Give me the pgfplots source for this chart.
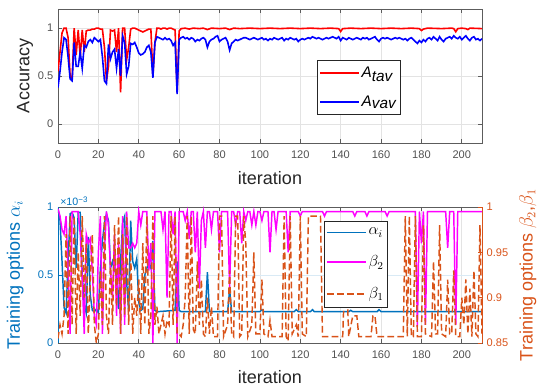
\documentclass[border=0pt]{standalone}
\usepackage{fontspec}
\setmainfont{Liberation Sans}
\usepackage{pgfplots}
\pgfplotsset{compat=1.18}
\definecolor{mblue}{HTML}{0072BD}
\definecolor{morange}{HTML}{D95319}
\definecolor{mmag}{HTML}{FF00FF}
\definecolor{mred}{HTML}{FF0000}
\definecolor{mbl}{HTML}{0000FF}
\definecolor{axgray}{HTML}{262626}
\definecolor{gridgray}{HTML}{E3E3E3}
\begin{document}
\begin{tikzpicture}
\path[use as bounding box] (0pt,0pt) rectangle (412.5pt,294pt);
\pgfplotsset{mystyle/.style={width=318pt, scale only axis, xmin=0, xmax=210,
  xtick={0,20,...,200}, tick align=inside, major tick length=3pt,
  tick label style={font=\fontsize{8.3}{10}\selectfont, color=axgray!80},
  xticklabel style={yshift=-2pt},
  /pgf/number format/assume math mode=true,
  label style={font=\fontsize{13.5}{16}\selectfont, color=axgray},
  axis line style={draw=axgray!75, line width=0.5pt},
  tick style={axgray!75, line width=0.5pt}}}
% ---------------- top axis
\begin{axis}[mystyle, at={(43.5pt,186.75pt)}, anchor=south west, height=100.5pt,
  ymin=-0.2, ymax=1.2, ytick={0,0.5,1}, yticklabels={0,0.5,1},
  grid=major, grid style={gridgray, line width=0.5pt},
  xlabel={iteration}, ylabel={Accuracy},
  xlabel style={at={(axis description cs:0.5,-0.261)}, anchor=center},
  ylabel style={at={(axis description cs:-0.078,0.5)}, anchor=center},
  legend style={at={(0.611,0.619)}, anchor=north west, draw=axgray,
    font=\fontsize{11.5}{13}\selectfont, cells={anchor=west}, row sep=8pt,
    inner xsep=1.5pt, inner ysep=3pt, nodes={inner xsep=1.5pt}},
  legend image code/.code={\draw[#1, line width=1.3pt] (0pt,0pt) -- (29pt,0pt);}]
\addplot[mred, line width=1.2pt] coordinates {(0,0.55)(1,0.75)(2,0.95)(3,1.0)(4,1.0)(5,0.9)(6,0.5)(7,0.47)(8,1.0)(9,0.72)(10,0.98)(11,0.7)(12,0.98)(13,0.75)(14,0.97)(15,0.98)(16,0.98)(17,0.99)(18,0.99)(19,1.0)(20,1.0)(21,0.99)(22,0.99)(23,0.8)(24,0.45)(25,0.6)(26,0.98)(27,0.97)(28,0.98)(29,0.75)(30,1.0)(31,0.33)(32,1.0)(33,1.0)(34,0.67)(35,0.8)(36,0.99)(37,1.0)(38,1.0)(39,0.99)(40,0.98)(41,0.97)(42,0.96)(43,0.97)(44,0.98)(45,0.99)(46,0.99)(47,0.5)(48,0.85)(49,1.0)(50,1.0)(51,0.99)(52,1.0)(53,1.0)(54,0.99)(55,1.0)(56,1.0)(57,0.99)(58,0.98)(59,0.33)(60,0.97)(61,0.995)(63,1.0)(65,0.99)(67,1.0)(70,0.995)(72,1.0)(74,0.985)(76,1.0)(80,0.995)(83,1.0)(85,0.985)(87,1.0)(90,0.995)(95,1.0)(100,0.995)(105,1.0)(110,0.995)(115,1.0)(120,0.995)(125,1.0)(130,0.995)(135,1.0)(139,0.995)(140,0.965)(141,0.995)(145,1.0)(150,0.995)(155,1.0)(160,0.995)(165,1.0)(170,0.995)(175,1.0)(179,0.995)(180,0.975)(181,0.99)(183,1.0)(190,0.995)(195,1.0)(196,0.995)(197,0.962)(198,0.995)(200,1.0)(202,0.995)(203,0.985)(204,1.0)(210,0.995)};
\addlegendentry{\textit{A}$_{\textit{tav}}$}
\addplot[mbl, line width=1.2pt] coordinates {(0,0.38)(1,0.55)(2,0.75)(3,0.9)(4,0.88)(5,0.7)(6,0.47)(7,0.45)(8,0.85)(9,0.6)(10,0.6)(11,0.75)(12,0.58)(13,0.82)(14,0.8)(15,0.86)(16,0.88)(17,0.85)(18,0.9)(19,0.88)(20,0.86)(21,0.88)(22,0.7)(23,0.45)(24,0.42)(25,0.83)(26,0.68)(27,0.75)(28,0.78)(29,0.58)(30,0.78)(31,0.5)(32,0.92)(33,0.85)(34,0.52)(35,0.6)(36,0.84)(37,0.83)(38,0.85)(39,0.8)(40,0.74)(41,0.72)(42,0.73)(43,0.75)(44,0.8)(45,0.82)(46,0.75)(47,0.48)(48,0.85)(49,0.91)(50,0.9)(51,0.89)(52,0.88)(53,0.9)(54,0.88)(55,0.89)(56,0.87)(57,0.82)(58,0.85)(59,0.31)(60,0.88)(61,0.90)(62,0.91)(63,0.89)(64,0.90)(65,0.88)(66,0.90)(67,0.89)(68,0.86)(69,0.88)(70,0.87)(71,0.89)(72,0.90)(73,0.88)(74,0.80)(75,0.86)(76,0.88)(77,0.89)(78,0.91)(79,0.92)(80,0.86)(81,0.88)(82,0.89)(83,0.90)(84,0.86)(85,0.77)(86,0.84)(87,0.86)(88,0.88)(89,0.87)(90,0.88)(91,0.89)(92,0.90)(93,0.90)(94,0.89)(95,0.88)(96,0.89)(97,0.90)(98,0.89)(99,0.88)(100,0.89)(101,0.90)(102,0.88)(103,0.89)(104,0.87)(105,0.89)(106,0.88)(107,0.90)(108,0.89)(109,0.88)(110,0.89)(111,0.90)(112,0.87)(113,0.89)(114,0.88)(115,0.90)(116,0.89)(117,0.88)(118,0.89)(119,0.86)(120,0.88)(121,0.89)(122,0.88)(123,0.89)(124,0.90)(125,0.89)(126,0.91)(127,0.90)(128,0.89)(129,0.90)(130,0.89)(131,0.88)(132,0.89)(133,0.90)(134,0.89)(135,0.90)(136,0.91)(137,0.90)(138,0.89)(139,0.91)(140,0.87)(141,0.90)(142,0.89)(143,0.88)(144,0.90)(145,0.89)(146,0.88)(147,0.89)(148,0.90)(149,0.89)(150,0.88)(151,0.90)(152,0.89)(153,0.90)(154,0.88)(155,0.89)(156,0.90)(157,0.91)(158,0.88)(159,0.86)(160,0.89)(161,0.90)(162,0.89)(163,0.90)(164,0.89)(165,0.88)(166,0.89)(167,0.90)(168,0.89)(169,0.90)(170,0.89)(171,0.88)(172,0.89)(173,0.87)(174,0.89)(175,0.90)(176,0.88)(177,0.86)(178,0.84)(179,0.87)(180,0.85)(181,0.88)(182,0.86)(183,0.89)(184,0.90)(185,0.88)(186,0.91)(187,0.89)(188,0.87)(189,0.91)(190,0.88)(191,0.86)(192,0.89)(193,0.90)(194,0.91)(195,0.89)(196,0.92)(197,0.90)(198,0.89)(199,0.91)(200,0.88)(201,0.90)(202,0.92)(203,0.89)(204,0.87)(205,0.90)(206,0.91)(207,0.88)(208,0.89)(209,0.87)(210,0.89)};
\addlegendentry{\textit{A}$_{\textit{vav}}$}
\end{axis}
% ---------------- bottom axis, left
\begin{axis}[name=bl, mystyle, at={(43.5pt,36.75pt)}, anchor=south west, height=102pt,
  ymin=0, ymax=1, ytick={0,0.5,1}, yticklabels={0,0.5,1}, ytick pos=left,
  yticklabel style={color=mblue}, ytick style={mblue},
  xmajorgrids, ymajorgrids, x grid style={gridgray, line width=0.5pt}, y grid style={mblue!15, line width=0.5pt},
  xlabel={iteration}, ylabel={Training options $\alpha_i$},
  xlabel style={at={(axis description cs:0.5,-0.25)}, anchor=center},
  ylabel style={at={(axis description cs:-0.101,0.5)}, anchor=center, color=mblue}]
\addplot[mblue, line width=1.1pt] coordinates {(0,0.99)(1,0.9)(2,0.6)(3,0.26)(4,0.22)(5,0.6)(6,0.95)(7,0.96)(8,0.92)(9,0.55)(10,0.96)(11,0.96)(12,0.5)(13,0.28)(14,0.22)(15,0.78)(16,0.35)(17,0.24)(18,0.23)(19,0.25)(20,0.22)(21,0.55)(22,0.75)(23,0.88)(24,0.95)(25,0.9)(26,0.55)(27,0.6)(28,0.53)(29,0.52)(30,0.25)(31,0.6)(32,0.88)(33,0.93)(34,0.45)(35,0.23)(36,0.9)(37,0.6)(38,0.55)(39,0.62)(40,0.3)(41,0.24)(42,0.25)(43,0.5)(44,0.55)(45,0.58)(46,0.55)(47,0.75)(48,0.24)(49,0.23)(58,0.24)(59,0.6)(60,0.24)(61,0.23)(73,0.23)(74,0.52)(75,0.23)(84,0.23)(85,0.39)(86,0.23)(100,0.23)(101,0.245)(102,0.23)(117,0.23)(118,0.245)(119,0.23)(125,0.23)(126,0.245)(127,0.23)(144,0.23)(145,0.24)(146,0.23)(158,0.23)(159,0.245)(160,0.23)(210,0.23)};
\end{axis}
\draw[mblue, line width=0.5pt] (bl.south west) -- (bl.north west);
\node[anchor=south west, inner sep=0.5pt, xshift=1pt, font=\fontsize{8}{9}\selectfont, color=mblue] at (bl.north west) {×10\textsuperscript{−3}};
% ---------------- bottom axis, right
\begin{axis}[width=318pt, height=102pt, scale only axis, at={(43.5pt,36.75pt)}, anchor=south west,
  xmin=0, xmax=210, ymin=0.85, ymax=1, axis x line=none, axis y line*=right,
  tick align=inside, major tick length=3pt,
  ytick={0.85,0.9,0.95,1}, yticklabels={0.85,0.9,0.95,1},
  y axis line style={morange, line width=0.5pt}, ytick style={morange, line width=0.5pt},
  yticklabel style={color=morange, font=\fontsize{8.3}{10}\selectfont},
  ylabel={Training options $\beta_2$,$\beta_1$},
  ylabel style={font=\fontsize{13.5}{16}\selectfont, color=morange, at={(axis description cs:1.108,0.5)}, anchor=center},
  legend style={at={(0.627,0.897)}, anchor=north west, draw=axgray, fill=white,
    font=\fontsize{11.5}{13}\selectfont, cells={anchor=west}, row sep=10pt,
    inner xsep=1.5pt, inner ysep=3pt, nodes={inner xsep=1.5pt}},
  legend image code/.code={\draw[#1] (0pt,0pt) -- (29pt,0pt);}]
\addlegendimage{mblue, line width=1.3pt}
\addlegendentry{$\alpha_i$}
\addplot[mmag, line width=1.1pt] coordinates {(0,0.998)(1,0.99)(2,0.975)(3,0.97)(4,0.99)(5,0.93)(6,0.86)(7,0.995)(8,0.995)(9,0.995)(10,0.995)(11,0.97)(12,0.92)(13,0.86)(14,0.97)(15,0.96)(16,0.965)(17,0.93)(18,0.88)(19,0.87)(20,0.95)(21,0.99)(22,0.86)(23,0.95)(24,0.995)(25,0.98)(26,0.93)(27,0.90)(28,0.97)(29,0.88)(30,0.96)(31,0.86)(32,0.99)(33,0.87)(34,0.995)(35,0.955)(36,0.955)(37,0.96)(38,0.955)(39,0.96)(40,0.995)(41,0.98)(42,0.995)(43,0.995)(44,0.995)(45,0.93)(46,0.96)(47,0.85)(48,0.995)(49,0.995)(50,0.995)(51,0.995)(52,0.975)(53,0.995)(54,0.9)(55,0.995)(56,0.995)(57,0.97)(58,0.995)(59,0.85)(60,0.995)(61,0.995)(62,0.995)(63,0.985)(64,0.995)(65,0.965)(66,0.995)(67,0.995)(68,0.95)(69,0.995)(70,0.91)(71,0.985)(72,0.995)(73,0.955)(74,0.995)(75,0.995)(76,0.975)(77,0.995)(79,0.995)(80,0.95)(81,0.995)(84,0.995)(85,0.91)(86,0.995)(87,0.995)(88,0.98)(89,0.995)(90,0.995)(91,0.96)(92,0.995)(93,0.985)(94,0.995)(95,0.995)(96,0.98)(97,0.995)(98,0.98)(99,0.995)(100,0.995)(101,0.985)(102,0.995)(104,0.995)(105,0.95)(106,0.995)(107,0.995)(108,0.975)(109,0.995)(113,0.995)(114,0.95)(115,0.995)(119,0.995)(120,0.99)(121,0.995)(131,0.995)(132,0.99)(133,0.995)(146,0.995)(147,0.99)(148,0.995)(152,0.995)(153,0.99)(154,0.995)(162,0.995)(163,0.99)(164,0.995)(177,0.995)(178,0.868)(179,0.995)(180,0.96)(181,0.995)(182,0.87)(183,0.995)(192,0.995)(193,0.955)(194,0.995)(196,0.995)(197,0.87)(198,0.995)(210,0.995)};
\addlegendentry{$\beta_2$}
\addplot[morange, line width=1.1pt, dash pattern=on 5pt off 2.5pt] coordinates {(0,0.855)(1,0.87)(2,0.86)(3,0.88)(4,0.97)(5,0.86)(6,0.99)(7,0.87)(8,0.99)(9,0.86)(10,0.95)(11,0.88)(12,0.99)(13,0.90)(14,0.96)(15,0.86)(16,0.92)(17,0.97)(18,0.87)(19,0.85)(20,0.86)(21,0.93)(22,0.87)(23,0.99)(24,0.88)(25,0.86)(26,0.94)(27,0.87)(28,0.98)(29,0.89)(30,0.99)(31,0.86)(32,0.97)(33,0.88)(34,0.99)(35,0.87)(36,0.95)(37,0.86)(38,0.9)(39,0.88)(40,0.92)(41,0.86)(42,0.96)(43,0.87)(44,0.99)(45,0.86)(46,0.88)(47,0.99)(48,0.87)(49,0.89)(50,0.86)(51,0.87)(52,0.88)(53,0.86)(54,0.875)(55,0.87)(56,0.99)(57,0.87)(58,0.99)(59,0.86)(60,0.86)(61,0.857)(62,0.87)(63,0.9)(64,0.99)(65,0.86)(66,0.99)(67,0.865)(68,0.86)(69,0.94)(70,0.87)(71,0.92)(72,0.86)(73,0.857)(74,0.9)(75,0.86)(76,0.89)(77,0.857)(79,0.857)(80,0.99)(81,0.99)(82,0.857)(84,0.87)(85,0.93)(86,0.86)(87,0.857)(88,0.99)(89,0.99)(90,0.857)(91,0.86)(92,0.99)(93,0.96)(94,0.857)(96,0.87)(97,0.95)(98,0.86)(100,0.86)(101,0.92)(102,0.86)(104,0.857)(105,0.875)(106,0.857)(111,0.857)(112,0.99)(113,0.857)(114,0.852)(115,0.99)(116,0.86)(118,0.87)(119,0.857)(120,0.99)(121,0.86)(123,0.857)(124,0.99)(130,0.99)(131,0.857)(141,0.857)(142,0.92)(143,0.92)(144,0.857)(146,0.88)(148,0.88)(149,0.857)(155,0.857)(156,0.88)(157,0.88)(158,0.857)(171,0.857)(172,0.99)(173,0.857)(174,0.99)(175,0.857)(176,0.857)(177,0.99)(178,0.857)(180,0.857)(181,0.98)(182,0.86)(185,0.857)(186,0.94)(187,0.86)(188,0.86)(189,0.98)(190,0.86)(192,0.857)(193,0.92)(194,0.86)(195,0.86)(196,0.93)(197,0.857)(199,0.857)(200,0.9)(201,0.87)(202,0.92)(203,0.86)(204,0.91)(205,0.857)(206,0.93)(207,0.86)(208,0.857)(209,0.98)(210,0.86)};
\addlegendentry{$\beta_1$}
\end{axis}
\end{tikzpicture}
\end{document}
